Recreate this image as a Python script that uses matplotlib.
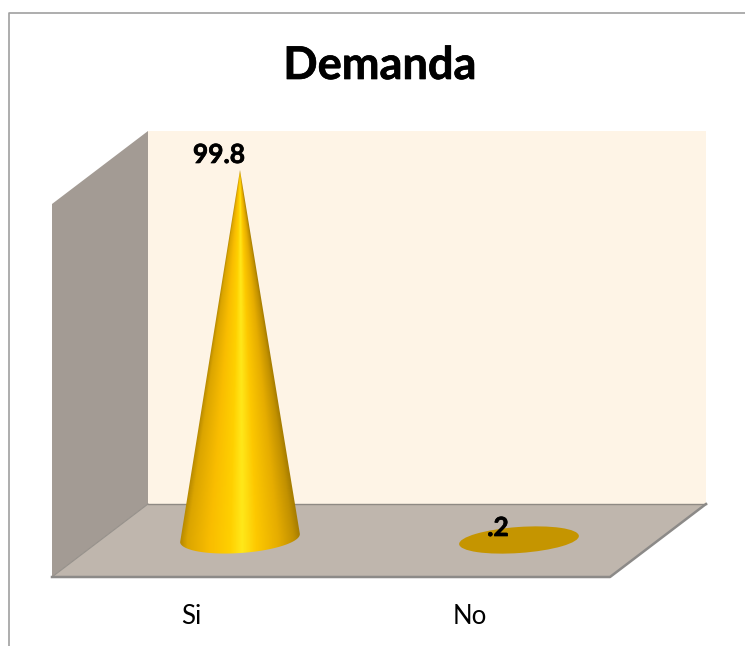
import numpy as np
import matplotlib
matplotlib.use("Agg")
import matplotlib.pyplot as plt
import matplotlib.patheffects as pe
from matplotlib.colors import LinearSegmentedColormap
from matplotlib.patches import Ellipse, Polygon, PathPatch
from matplotlib.path import Path
from matplotlib.transforms import Affine2D

plt.rcParams['font.family'] = ['Lato', 'DejaVu Sans']

# Data
categories = ["Si", "No"]
values = [99.8, 0.2]
value_labels = ["99.8", ".2"]
title = "Demanda"

# Layout in image pixels
W, H = 745, 646
base_x = [240, 519]
base_y = [538, 540]
base_w = [120, 120]
base_h = [30, 26]
tilt = -4
px_per_unit = 368 / 99.8

fig = plt.figure(figsize=(W / 100, H / 100), dpi=100)
ax = fig.add_axes([0, 0, 1, 1])
ax.set_xlim(0, W)
ax.set_ylim(H, 0)
ax.axis("off")

# chart frame
ax.plot([746, 9, 9], [13, 13, 647], color="#a0a0a0", lw=1.2)

# walls and floor
ax.add_patch(Polygon([(148, 131), (706, 131), (706, 504), (148, 504)], fc="#fef4e6", ec="none"))
ax.add_patch(Polygon([(52, 204), (148, 131), (148, 504), (52, 577)], fc="#a39b94", ec="none"))
ax.add_patch(Polygon([(52, 577), (148, 504), (706, 504), (610, 577)], fc="#bfb6ad", ec="none"))
ax.plot([148, 706], [504, 504], color="#8f8a84", lw=1.0)
ax.plot([52, 148], [577, 504], color="#95908a", lw=0.8)
ax.plot([52, 610, 706], [577, 577, 504], color="#8c8a88", lw=1.8)

gold = LinearSegmentedColormap.from_list("gold", [
    (0.0, "#b58800"), (0.06, "#dba500"), (0.25, "#f9bd00"), (0.42, "#ffd000"), (0.52, "#ffe81a"),
    (0.64, "#fdc800"), (0.82, "#e6ad00"), (0.95, "#c29100"), (1.0, "#a87e00")])

for i, v in enumerate(values):
    cx, cy = base_x[i], base_y[i]
    w, h = base_w[i], base_h[i]
    height = v * px_per_unit
    if height < 5:
        # almost no height: only the flat base shows
        ax.add_patch(Ellipse((cx, cy), w, h, angle=tilt, fc="#c59500", ec="none", zorder=2))
    else:
        t = np.linspace(0, np.pi, 60)
        rot = Affine2D().rotate_deg(tilt).translate(cx, cy)
        lower = rot.transform(np.c_[w / 2 * np.cos(t), h / 2 * np.sin(t)])
        verts = np.vstack([[cx, cy - height], lower, [cx, cy - height]])
        codes = [Path.MOVETO] + [Path.LINETO] * (len(verts) - 2) + [Path.CLOSEPOLY]
        cone = PathPatch(Path(verts, codes), fc="none", ec="none")
        ax.add_patch(cone)
        # shading follows the cone's width at each height
        xs = np.linspace(cx - w / 2 - 1, cx + w / 2 + 1, 300)
        ys = np.linspace(cy - height, cy + h, 600)
        X, Y = np.meshgrid(xs, ys)
        half = np.clip((Y - (cy - height)) / height, 0.002, 1) * w / 2
        U = np.clip(0.5 + (X - cx) / (2 * half), 0, 1)
        img = ax.imshow(U, cmap=gold, vmin=0, vmax=1, aspect="auto", interpolation="bilinear",
                        extent=[xs[0], xs[-1], ys[-1], ys[0]], zorder=2)
        img.set_clip_path(cone)
    ax.set_xlim(0, W)
    ax.set_ylim(H, 0)

heavy = [pe.withStroke(linewidth=0.5, foreground="black")]

# value labels
ax.text(219, 155, value_labels[0], ha="center", va="center", fontsize=19, fontweight="bold",
        color="black", zorder=4, path_effects=heavy)
ax.text(498, 528, value_labels[1], ha="center", va="center", fontsize=19, fontweight="bold",
        color="black", zorder=4, path_effects=heavy)

# category labels
ax.text(191, 616, categories[0], ha="center", va="center", fontsize=18.5, color="black")
ax.text(470, 616, categories[1], ha="center", va="center", fontsize=18.5, color="black")

ax.text(380, 66, title, ha="center", va="center", fontsize=32.5, fontweight="bold", color="black",
        path_effects=heavy)

fig.savefig("out.png", dpi=100)
